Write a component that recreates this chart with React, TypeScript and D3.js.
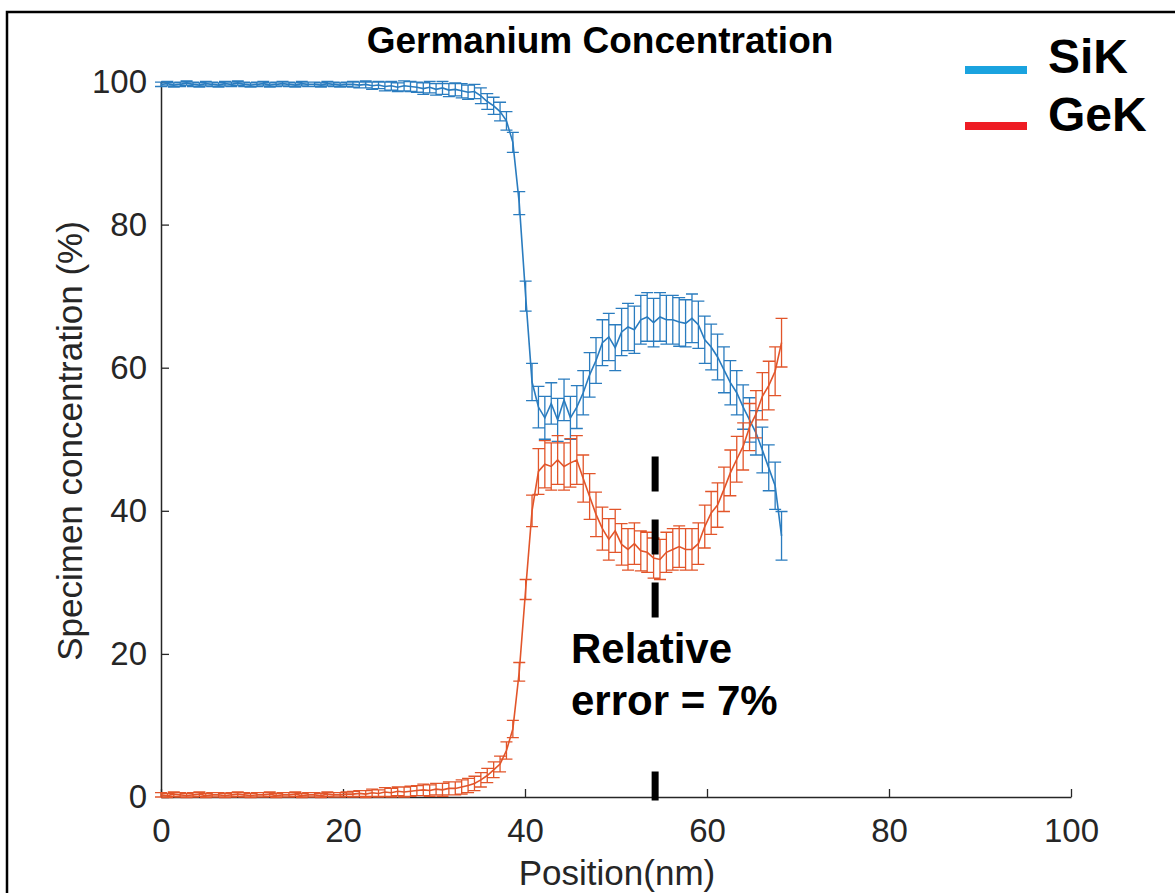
import React, { useEffect, useRef } from "react";
import * as d3 from "d3";

// ---------- data ----------
const seriesNames = ["SiK", "GeK"];
const xTicks = [0, 20, 40, 60, 80, 100];
const yTicks = [0, 20, 40, 60, 80, 100];

// sample positions (nm): 98 samples, uniform step of the scan
const positionNm = d3.range(98).map((i) => +(i * 0.703).toFixed(3));

const sik = [
  99.6, 99.7, 99.5, 99.6, 99.8, 99.6, 99.5, 99.7, 99.6, 99.5,
  99.7, 99.6, 99.8, 99.6, 99.5, 99.6, 99.7, 99.5, 99.6, 99.7,
  99.6, 99.5, 99.7, 99.6, 99.6, 99.5, 99.7, 99.6, 99.5, 99.6,
  99.6, 99.5, 99.6, 99.4, 99.5, 99.3, 99.4, 99.2, 99.4, 99.3,
  99.2, 99.0, 99.2, 98.9, 99.1, 98.8, 98.9, 98.7, 98.5, 98.6,
  98.0, 97.2, 96.6, 95.8, 94.5, 91.5, 83.0, 70.0, 58.0, 54.5,
  53.0, 55.0, 52.7, 55.5, 53.0, 54.5, 56.5, 59.0, 61.0, 63.5,
  64.3, 62.8, 65.0, 65.7, 65.3, 66.7, 67.1, 66.3, 67.1, 66.7,
  66.7, 66.4, 66.2, 66.9, 66.0, 63.9, 62.9, 61.5, 59.7, 57.9,
  56.5, 54.5, 52.7, 50.9, 48.5, 46.0, 43.5, 36.5,
];

const gek = [
  0.3, 0.2, 0.4, 0.3, 0.2, 0.3, 0.4, 0.2, 0.3, 0.3,
  0.2, 0.3, 0.4, 0.3, 0.2, 0.3, 0.3, 0.4, 0.2, 0.3,
  0.3, 0.4, 0.2, 0.3, 0.3, 0.2, 0.4, 0.3, 0.3, 0.4,
  0.4, 0.5, 0.4, 0.6, 0.5, 0.7, 0.6, 0.8, 0.7, 0.8,
  0.9, 1.0, 0.9, 1.1, 1.0, 1.2, 1.2, 1.4, 1.6, 1.9,
  2.4, 3.0, 3.8, 4.6, 6.5, 9.5, 17.5, 29.0, 40.0, 45.5,
  46.5, 46.2, 47.1, 46.2, 46.7, 47.1, 44.5, 42.0, 39.5, 37.5,
  36.0, 37.2, 35.3, 34.6, 35.4, 34.4, 34.2, 33.4, 33.2, 34.2,
  34.6, 35.0, 34.6, 34.6, 35.4, 37.8, 39.7, 40.8, 43.0, 45.3,
  47.2, 49.0, 51.7, 53.5, 56.0, 57.5, 59.5, 63.5,
];

const sikErr = [
  0.3, 0.3, 0.3, 0.3, 0.3, 0.3, 0.3, 0.3, 0.3, 0.3,
  0.3, 0.3, 0.3, 0.3, 0.3, 0.3, 0.3, 0.3, 0.3, 0.3,
  0.3, 0.3, 0.3, 0.3, 0.3, 0.3, 0.3, 0.3, 0.3, 0.3,
  0.4, 0.4, 0.5, 0.5, 0.5, 0.6, 0.6, 0.6, 0.7, 0.7,
  0.7, 0.8, 0.8, 0.8, 0.9, 0.9, 0.9, 1.0, 1.0, 1.0,
  1.1, 1.1, 1.2, 1.3, 1.3, 1.4, 1.6, 2.1, 2.6, 2.9,
  3.0, 2.9, 3.0, 2.9, 3.0, 3.0, 3.1, 3.1, 3.2, 3.2,
  3.3, 3.2, 3.3, 3.3, 3.3, 3.4, 3.4, 3.4, 3.4, 3.4,
  3.4, 3.4, 3.3, 3.4, 3.3, 3.3, 3.2, 3.2, 3.2, 3.1,
  3.1, 3.1, 3.1, 3.1, 3.2, 3.2, 3.3, 3.4,
];

const gekErr = [
  0.3, 0.3, 0.3, 0.3, 0.3, 0.3, 0.3, 0.3, 0.3, 0.3,
  0.3, 0.3, 0.3, 0.3, 0.3, 0.3, 0.3, 0.3, 0.3, 0.3,
  0.3, 0.3, 0.3, 0.3, 0.3, 0.3, 0.3, 0.3, 0.3, 0.3,
  0.4, 0.4, 0.5, 0.5, 0.5, 0.6, 0.6, 0.6, 0.7, 0.7,
  0.7, 0.8, 0.8, 0.8, 0.9, 0.9, 0.9, 1.0, 1.0, 1.0,
  1.0, 1.0, 1.1, 1.1, 1.2, 1.2, 1.3, 1.4, 2.2, 3.2,
  3.3, 3.3, 3.4, 3.3, 3.4, 3.4, 3.3, 3.2, 3.1, 3.0,
  2.9, 3.0, 2.9, 2.9, 2.9, 2.8, 2.8, 2.8, 2.8, 2.8,
  2.9, 2.9, 2.9, 2.9, 2.9, 3.0, 3.0, 3.1, 3.1, 3.2,
  3.2, 3.3, 3.3, 3.3, 3.3, 3.4, 3.4, 3.4,
];

// annotation: dashed marker position (nm) and vertical extent (%)
const markerX = 54.3;
const markerRange = [47.6, -0.5];
const annotationLines = ["Relative", "error = 7%"];

// ---------- styles ----------
const FONT = "'Liberation Sans', Arial, Helvetica, sans-serif";
const LINE_COLORS = ["#2a7cbf", "#e2552a"];
const LEGEND_COLORS = ["#1aa3df", "#ee1c24"];
const AXIS_COLOR = "#262626";

export default function App() {
  const xAxisRef = useRef<SVGGElement>(null);
  const yAxisRef = useRef<SVGGElement>(null);

  const x = d3.scaleLinear().domain([0, 100]).range([161, 1071]);
  const y = d3.scaleLinear().domain([0, 100]).range([797, 81.5]);

  useEffect(() => {
    const gx = d3.select(xAxisRef.current as SVGGElement);
    gx.call(
      d3
        .axisBottom(x)
        .tickValues(xTicks)
        .tickSizeInner(-8)
        .tickSizeOuter(0)
        .tickPadding(22)
        .tickFormat(d3.format("d")) as any
    );
    gx.attr("font-family", FONT).attr("font-size", 33);
    gx.select(".domain").attr("stroke", AXIS_COLOR).attr("stroke-width", 1.5);
    gx.selectAll(".tick line").attr("stroke", AXIS_COLOR).attr("stroke-width", 1.3);
    gx.selectAll(".tick text").attr("fill", AXIS_COLOR);

    const gy = d3.select(yAxisRef.current as SVGGElement);
    gy.call(
      d3
        .axisLeft(y)
        .tickValues(yTicks)
        .tickSizeInner(-8)
        .tickSizeOuter(0)
        .tickPadding(14)
        .tickFormat(d3.format("d")) as any
    );
    gy.attr("font-family", FONT).attr("font-size", 33);
    gy.select(".domain").attr("stroke", AXIS_COLOR).attr("stroke-width", 1.5);
    gy.selectAll(".tick line").attr("stroke", AXIS_COLOR).attr("stroke-width", 1.3);
    gy.selectAll(".tick text").attr("fill", AXIS_COLOR);
  }, []);

  const line = d3
    .line<number>()
    .x((_, i) => x(positionNm[i]))
    .y((d) => y(d));

  const series = [
    { name: seriesNames[0], values: sik, errs: sikErr, color: LINE_COLORS[0] },
    { name: seriesNames[1], values: gek, errs: gekErr, color: LINE_COLORS[1] },
  ];

  const cap = 6;
  const errPath = (values: number[], errs: number[]) =>
    values
      .map((v, i) => {
        const px = x(positionNm[i]);
        const y1 = y(v + errs[i]);
        const y2 = y(v - errs[i]);
        return `M${px},${y1}V${y2}M${px - cap},${y1}H${px + cap}M${px - cap},${y2}H${px + cap}`;
      })
      .join("");

  const mx = x(markerX);

  return (
    <svg
      width={1175}
      height={893}
      style={{ position: "absolute", left: 0, top: 0, background: "#fff" }}
      fontFamily={FONT}
    >
      <rect x={0} y={0} width={1175} height={893} fill="#fff" />
      {/* outer frame */}
      <path d="M7,905V12H1180" fill="none" stroke="#000" strokeWidth={2.5} />

      {/* title */}
      <text x={600} y={53} textAnchor="middle" fontSize={37} fontWeight="bold" fill="#000">
        Germanium Concentration
      </text>

      {/* axes */}
      <g ref={xAxisRef} transform={`translate(0,${y(0)})`} />
      <g ref={yAxisRef} transform={`translate(${x(0)},0)`} />

      {/* axis labels */}
      <text x={617} y={885} textAnchor="middle" fontSize={35} fill={AXIS_COLOR}>
        Position(nm)
      </text>
      <text
        transform={`translate(82,441) rotate(-90)`}
        textAnchor="middle"
        fontSize={35}
        fill={AXIS_COLOR}
      >
        Specimen concentration (%)
      </text>

      {/* series */}
      {series.map((s) => (
        <g key={s.name}>
          <path d={errPath(s.values, s.errs)} fill="none" stroke={s.color} strokeWidth={1.3} />
          <path d={line(s.values) || ""} fill="none" stroke={s.color} strokeWidth={1.6} />
        </g>
      ))}

      {/* dashed marker */}
      <line
        x1={mx}
        x2={mx}
        y1={y(markerRange[0])}
        y2={y(markerRange[1])}
        stroke="#000"
        strokeWidth={7}
        strokeDasharray="35 28"
      />
      <rect x={565} y={620} width={230} height={146} fill="#fff" />
      {annotationLines.map((t, i) => (
        <text key={t} x={571} y={663 + i * 52} fontSize={42} fontWeight="bold" fill="#000">
          {t}
        </text>
      ))}

      {/* legend */}
      {seriesNames.map((n, i) => (
        <g key={n}>
          <line
            x1={965}
            x2={1027}
            y1={70 + i * 56}
            y2={70 + i * 56}
            stroke={LEGEND_COLORS[i]}
            strokeWidth={8}
          />
          <text x={1048} y={73 + i * 58} fontSize={48} fontWeight="bold" fill="#000">
            {n}
          </text>
        </g>
      ))}
    </svg>
  );
}
